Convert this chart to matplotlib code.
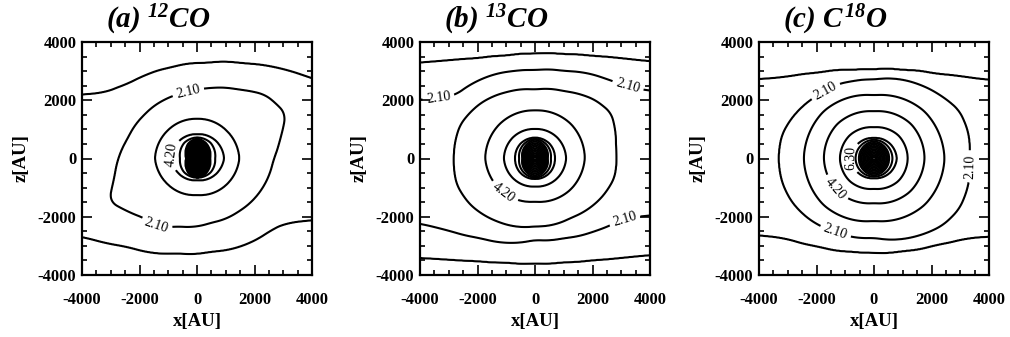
import numpy as np
import matplotlib
matplotlib.use("Agg")
import matplotlib.pyplot as plt
from matplotlib.ticker import MultipleLocator

# ---------- contour data ----------
# each contour = list of (x, z) points in AU, outermost level first
# open contours get far-away points at (+-9000, 0) / (+-7000, 0) to close them off-plot
LEVELS = np.round(1.05 * np.arange(1, 25), 2)   # 1.05, 2.10, ... 25.20
PEAKS = [25.5, 20.0, 20.0]                     # centre value of each panel

co12_contours = [
    [(-9000, 0), (-4600, -2600), (-4000, -2670), (-2430, -3020), (-660, -3250), (500, -3190),
     (1660, -2960), (2580, -2450), (3050, -2220), (4000, -2100), (4600, -2080), (9000, 0),
     (4600, 2550), (4000, 2740), (2800, 3110), (1600, 3260), (300, 3270), (-900, 3120),
     (-1800, 2850), (-2400, 2560), (-3200, 2250), (-4000, 2190), (-4600, 2150)],
    [(3080, 1530), (2360, 2190), (1450, 2365), (500, 2420), (-300, 2270), (-1120, 2020),
     (-1820, 1510), (-2400, 700), (-2870, -670), (-3040, -1470), (-2400, -1815), (-1820, -2045),
     (-1420, -2330), (-650, -2330), (500, -2200), (1450, -1815), (2250, -1050), (2650, -50),
     (2880, 640)],
    [(1470, 0), (1020, 960), (0, 1360), (-1020, 960), (-1460, 0), (-1000, -900), (0, -1250), (1020, -900)],
    [(940, 0), (660, 600), (0, 830), (-620, 600), (-880, 0), (-620, -530), (0, -740), (660, -530)],
    [(630, 0), (470, 540), (0, 720), (-440, 540), (-590, 0), (-440, -480), (0, -650), (470, -480)],
    [(450, 0), (320, 520), (0, 690), (-300, 520), (-370, 0), (-300, -500), (0, -680), (320, -500)],
]

co13_contours = [
    [(-9000, 0), (-4600, -3390), (-4000, -3400), (-3000, -3460), (-2000, -3510), (-1000, -3560),
     (0, -3590), (1000, -3550), (2000, -3480), (3000, -3400), (4000, -3300), (4600, -3280), (9000, 0),
     (4600, 3300), (4000, 3320), (3000, 3430), (2000, 3510), (1000, 3570), (0, 3590), (-1000, 3520),
     (-2000, 3430), (-3000, 3360), (-4000, 3280), (-4600, 3250)],
    [(-7000, 0), (-4600, -2150), (-4000, -2220), (-3060, -2450), (-1900, -2730), (0, -2790),
     (1010, -2730), (2050, -2500), (3100, -2040), (4000, -1950), (4600, -1900), (7000, 0),
     (4600, 2280), (4000, 2310), (3220, 2450), (2520, 2710), (2000, 2885), (1010, 3000), (0, 3030),
     (-730, 3000), (-1890, 2710), (-2760, 2170), (-3350, 2040), (-4000, 2020), (-4600, 2000)],
    [(-2820, 0), (-2590, 1160), (-1880, 1900), (-955, 2285), (0, 2365), (1010, 2310), (2060, 2020),
     (2640, 1560), (2810, 360), (2750, -670), (2290, -1360), (1240, -2040), (0, -2330),
     (-1310, -2160), (-2240, -1590), (-2710, -900)],
    [(1730, 0), (1250, 1180), (0, 1650), (-1230, 1180), (-1730, 0), (-1220, -1060), (0, -1480), (1240, -1060)],
    [(1080, 0), (770, 720), (0, 1010), (-770, 720), (-1080, 0), (-760, -680), (0, -960), (770, -680)],
    [(690, 0), (500, 510), (0, 710), (-500, 510), (-690, 0), (-500, -500), (0, -700), (500, -500)],
    [(550, 0), (400, 480), (0, 680), (-400, 480), (-550, 0), (-400, -470), (0, -670), (400, -470)],
    [(440, 0), (320, 450), (0, 650), (-320, 450), (-440, 0), (-320, -440), (0, -640), (320, -440)],
]

c18o_contours = [
    [(-9000, 0), (-4600, -2600), (-4000, -2620), (-3070, -2730), (-1910, -3020), (-750, -3190),
     (0, -3225), (990, -3170), (2150, -2960), (3200, -2730), (3950, -2675), (4600, -2650), (9000, 0),
     (4600, 2660), (3950, 2690), (3200, 2790), (2150, 2900), (990, 3030), (0, 3050), (-750, 3030),
     (-1910, 2940), (-3070, 2790), (-4000, 2710), (-4600, 2700)],
    [(3320, 0), (3270, 900), (2950, 1650), (2300, 2170), (1570, 2540), (0, 2710), (-750, 2650),
     (-1270, 2540), (-1680, 2310), (-2265, 1965), (-2850, 1390), (-3190, 820), (-3310, 0),
     (-3190, -810), (-2850, -1490), (-2265, -2070), (-1340, -2520), (0, -2720), (1570, -2640),
     (2380, -2290), (2960, -1720), (3270, -920)],
    [(2450, 0), (1750, 1620), (0, 2170), (-1750, 1620), (-2440, 0), (-1750, -1600), (0, -2140), (1750, -1600)],
    [(1756, 0), (1280, 1190), (0, 1620), (-1270, 1190), (-1742, 0), (-1250, -1130), (0, -1530), (1260, -1130)],
    [(1170, 0), (850, 790), (0, 1070), (-850, 790), (-1185, 0), (-850, -770), (0, -1040), (850, -770)],
    [(790, 0), (560, 500), (0, 700), (-560, 500), (-810, 0), (-560, -480), (0, -670), (560, -480)],
    [(640, 0), (450, 450), (0, 640), (-450, 450), (-640, 0), (-450, -440), (0, -620), (450, -440)],
    [(520, 0), (370, 400), (0, 590), (-370, 400), (-520, 0), (-370, -390), (0, -580), (370, -390)],
]

# contour label positions (AU) per panel, each placed on the nearest contour
co12_labels = [(-300, 2270), (-1420, -2330), (-900, 130)]
co13_labels = [(-3350, 2040), (3220, 2450), (3100, -2040), (-1140, -1240)]
c18o_labels = [(-1680, 2310), (3320, -270), (-1340, -2520), (-1390, -1070), (-820, 20)]

titles = [r"$\mathit{(a)\ ^{12}CO}$", r"$\mathit{(b)\ ^{13}CO}$", r"$\mathit{(c)\ C^{18}O}$"]

# ---------- style ----------
plt.rcParams["font.family"] = ["Liberation Serif", "DejaVu Serif"]
plt.rcParams["font.weight"] = "bold"
plt.rcParams["axes.unicode_minus"] = False
plt.rcParams["mathtext.fontset"] = "custom"
plt.rcParams["mathtext.it"] = "Liberation Serif:italic:bold"
plt.rcParams["mathtext.rm"] = "Liberation Serif:italic:bold"

grid = np.linspace(-4000, 4000, 481)
theta_fine = np.linspace(-np.pi, np.pi, 1440, endpoint=False)


def ring_radius(pts, theta, win=37):
    # radius of one contour along each ray; 1/r is interpolated and lightly smoothed
    p = np.asarray(pts, float)
    ang = np.arctan2(p[:, 1], p[:, 0])
    inv = 1.0 / np.hypot(p[:, 0], p[:, 1])
    order = np.argsort(ang)
    inv_fine = np.interp(theta_fine, ang[order], inv[order], period=2 * np.pi)
    kernel = np.ones(win) / win
    padded = np.concatenate([inv_fine[-win:], inv_fine, inv_fine[:win]])
    inv_fine = np.convolve(padded, kernel, mode="same")[win:-win]
    return 1.0 / np.interp(theta, theta_fine, inv_fine, period=2 * np.pi)


def build_field(contours, peak):
    X, Z = np.meshgrid(grid, grid)
    r = np.hypot(X, Z)
    th = np.arctan2(Z, X)
    R = np.array([ring_radius(c, th) for c in contours])
    R = np.minimum.accumulate(R, axis=0)
    L = LEVELS[:len(contours)]
    with np.errstate(divide="ignore", invalid="ignore"):
        F = L[0] * R[0] / np.maximum(r, 1.0)
        for k in range(len(contours) - 1):
            m = (r <= R[k]) & (r > R[k + 1])
            val = L[k] + (L[k + 1] - L[k]) * (R[k] - r) / (R[k] - R[k + 1])
            F[m] = val[m]
        m = r <= R[-1]
        inner = peak - (peak - L[-1]) * r / R[-1]
        F[m] = inner[m]
    return X, Z, F


fig = plt.figure(figsize=(10.10, 3.37), dpi=100)
lefts = [82, 420, 759]
panels = [(co12_contours, co12_labels), (co13_contours, co13_labels), (c18o_contours, c18o_labels)]

for i, (conts, labs) in enumerate(panels):
    ax = fig.add_axes([lefts[i] / 1010, 62 / 337, 230 / 1010, 233 / 337])
    X, Z, F = build_field(conts, PEAKS[i])
    cs = ax.contour(X, Z, F, levels=LEVELS, colors="k", linewidths=1.5)

    texts = ax.clabel(cs, manual=labs, fmt="%.2f", fontsize=10,
                      inline=True, inline_spacing=4)
    for t in texts:
        t.set_fontweight("normal")

    ax.set_xlim(-4000, 4000)
    ax.set_ylim(-4000, 4000)
    ax.xaxis.set_major_locator(MultipleLocator(2000))
    ax.yaxis.set_major_locator(MultipleLocator(2000))
    ax.xaxis.set_minor_locator(MultipleLocator(500))
    ax.yaxis.set_minor_locator(MultipleLocator(500))
    ax.tick_params(which="both", direction="in", top=True, right=True, width=1.2, labelsize=12)
    ax.tick_params(which="major", length=7)
    ax.tick_params(which="minor", length=3.5)
    ax.tick_params(axis="x", pad=12)
    ax.tick_params(axis="y", pad=4)
    for s in ax.spines.values():
        s.set_linewidth(1.6)

    ax.set_xlabel("x[AU]", fontsize=13.5, fontweight="bold", labelpad=4)
    ax.set_ylabel("z[AU]", fontsize=13.5, fontweight="bold", labelpad=6)
    ax.text(0.33, 1.062, titles[i], transform=ax.transAxes, ha="center", va="baseline",
            fontsize=21)

fig.savefig("out.png", dpi=100)
